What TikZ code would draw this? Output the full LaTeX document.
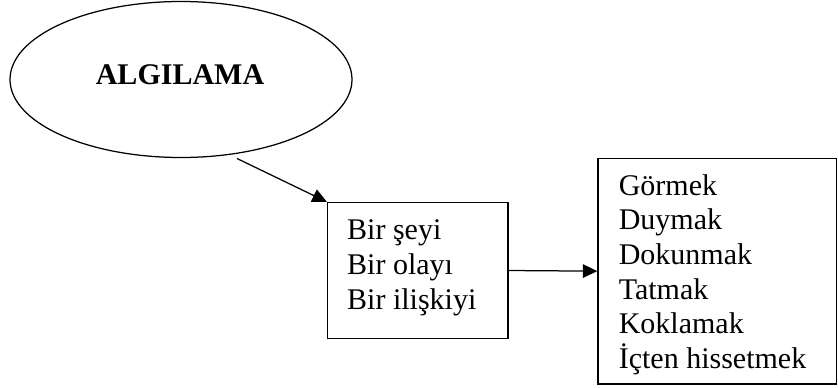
\documentclass[tikz,border=0pt]{standalone}
\usepackage{fontspec}
\setmainfont{Liberation Serif}
\usetikzlibrary{shapes.geometric,arrows.meta}
\begin{document}
\begin{tikzpicture}[x=0.4pt,y=-0.4pt,
  outline/.style={draw=black,line width=0.5pt},
  txt/.style={font=\fontsize{12pt}{13.85pt}\selectfont,align=left,inner sep=0pt,anchor=base west},
  arr/.style={line width=0.5pt,-{Triangle[length=5.8pt,width=5.4pt]}}]
  \useasboundingbox (0,0) rectangle (838,387);
  % oval heading
  \node[outline,ellipse,minimum width=136.8pt,minimum height=62.4pt,inner sep=0pt] (alg) at (181,79.5) {};
  \node[font=\fontsize{12pt}{13.85pt}\selectfont\bfseries,inner sep=0pt,anchor=base] (algtext) at (180,84.3) {ALGILAMA};
  % object box (text placed by the baseline of its last line)
  \node[outline,rectangle,minimum width=72.2pt,minimum height=54.4pt,inner sep=0pt] (obj) at (417.75,270.5) {};
  \node[txt] (objtext) at (346.7,309) {Bir şeyi\\Bir olayı\\Bir ilişkiyi};
  % senses box
  \node[outline,rectangle,minimum width=95.5pt,minimum height=90.3pt,inner sep=0pt] (sense) at (717.35,271.15) {};
  \node[txt] (sensetext) at (618.3,368.3) {Görmek\\Duymak\\Dokunmak\\Tatmak\\Koklamak\\İçten hissetmek};
  % connectors
  \coordinate (start) at (237,158.5);
  \draw[arr] (start) -- (obj.north west);
  \draw[arr] (obj.east) -- (sense.west);
\end{tikzpicture}
\end{document}
